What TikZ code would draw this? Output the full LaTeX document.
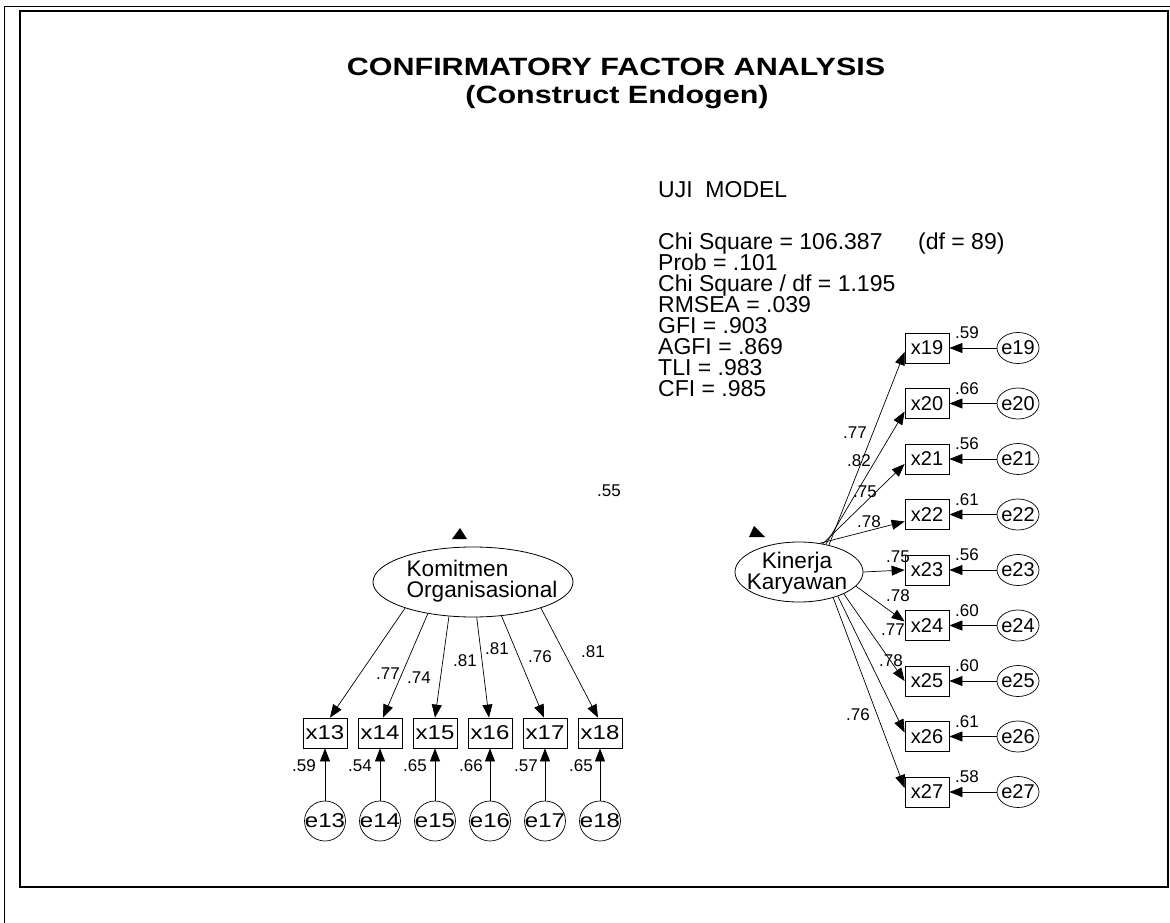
\documentclass[tikz,border=0pt]{standalone}
\usepackage{fontspec}
\setmainfont{Liberation Sans}
\usepackage{graphicx}
\usetikzlibrary{shapes.geometric,arrows.meta}
\begin{document}
\begin{tikzpicture}[x=1pt,y=-1pt,
 obs/.style={draw,line width=0.8pt,minimum width=44pt,minimum height=30pt,inner sep=0pt,font=\fontsize{20}{20}\selectfont},
 errL/.style={draw,ellipse,line width=0.7pt,minimum width=41pt,minimum height=40pt,inner sep=0pt,font=\fontsize{20}{20}\selectfont},
 errR/.style={draw,ellipse,line width=0.7pt,minimum width=42pt,minimum height=31pt,inner sep=0pt,font=\fontsize{20}{20}\selectfont},
 lat/.style={draw,ellipse,line width=0.8pt,inner sep=0pt},
 lbl/.style={inner sep=0pt,font=\fontsize{17}{17}\selectfont},
 stat/.style={inner sep=0pt,anchor=base west,font=\fontsize{23}{23}\selectfont},
 ttl/.style={inner sep=0pt,anchor=base,font=\fontsize{25}{25}\selectfont\bfseries},
 arr/.style={-{Triangle[length=13pt,width=10pt]},line width=0.7pt}]
\fill[white] (0,0) rectangle (1170,923);
\useasboundingbox (0,0) rectangle (1170,923);
% frames
\draw[line width=1.3pt] (20,11) rectangle (1168,887);
\draw[line width=0.9pt] (4,923) -- (4,6) -- (1170,6);
% title
\node[ttl] (t1) at (616,76) {\scalebox{1.22}[1]{CONFIRMATORY FACTOR ANALYSIS}};
\node[ttl] (t2) at (617,104) {\scalebox{1.22}[1]{(Construct Endogen)}};
% statistics
\node[stat] (uji) at (658,197) {UJI\ \ MODEL};
\node[stat] (s1) at (658,249.5) {Chi Square = 106.387};
\node[stat] (s1b) at (918,249.5) {(df = 89)};
\node[stat] (s2) at (658,270.5) {Prob = .101};
\node[stat] (s3) at (658,291.5) {Chi Square / df = 1.195};
\node[stat] (s4) at (658,312.5) {RMSEA = .039};
\node[stat] (s5) at (658,333.5) {GFI = .903};
\node[stat] (s6) at (658,354.5) {AGFI = .869};
\node[stat] (s7) at (658,375.5) {TLI = .983};
\node[stat] (s8) at (658,396.5) {CFI = .985};
% latent variables
\node[lat,minimum width=200pt,minimum height=70pt] (kom) at (473,582) {};
\node[inner sep=0pt,align=left,font=\fontsize{22.6}{21}\selectfont] (komt) at (482,581) {Komitmen\\Organisasional};
\node[lat,minimum width=128pt,minimum height=60pt] (kin) at (799,572) {};
\node[inner sep=0pt,align=center,font=\fontsize{22.6}{21}\selectfont] (kint) at (797,573) {Kinerja\\Karyawan};
% triangles and correlation value
\fill (452,539) -- (467,539) -- (460,528) -- cycle;
\fill (749,537) -- (765,537) -- (754,526) -- cycle;
\node[lbl] (r55) at (609,491) {.55};
% left indicators
\foreach \i/\x in {13/325,14/380,15/435,16/490,17/545,18/600} {
  \node[obs] (x\i) at (\x,733) {\scalebox{1.2}[1]{x\i}};
  \node[errL] (e\i) at (\x,821) {\makebox[0pt][c]{\scalebox{1.2}[1]{e\i}}};
  \draw[arr] (e\i) -- (x\i);
}
\draw[arr] (kom.-159) -- ([xshift=5pt]x13.north);
\draw[arr] (kom.-145) -- ([xshift=3pt]x14.north);
\draw[arr] (kom.-125) -- (x15.north);
\draw[arr] (kom.-84) -- ([xshift=-1pt]x16.north);
\draw[arr] (kom.-50) -- ([xshift=-1pt]x17.north);
\draw[arr] (kom.-21) -- ([xshift=-2pt]x18.north);
\node[lbl] at (388,674) {.77};
\node[lbl] at (419,678) {.74};
\node[lbl] at (465,661) {.81};
\node[lbl] at (497,649) {.81};
\node[lbl] at (540,657) {.76};
\node[lbl] at (593,652) {.81};
\node[lbl] at (304,766) {.59};
\node[lbl] at (360,766) {.54};
\node[lbl] at (415,766) {.65};
\node[lbl] at (471,766) {.66};
\node[lbl] at (526,766) {.57};
\node[lbl] at (581,766) {.65};
% right indicators
\foreach \i/\y/\r in {19/348/.59,20/403.5/.66,21/459/.56,22/514.5/.61,23/570/.56,24/625.5/.60,25/681/.60,26/736.5/.61,27/792/.58} {
  \node[obs] (x\i) at (927,\y) {x\i};
  \node[errR] (e\i) at (1018,\y) {\makebox[0pt][c]{e\i}};
  \draw[arr] (e\i) -- (x\i);
  \node[lbl] at (967,\y-15) {\r};
}
\draw[arr] (kin.42) -- ([yshift=-4pt]x19.west);
\draw[arr] (kin.46) -- ([yshift=-8pt]x20.west);
\draw[arr] (kin.50) -- ([yshift=-5pt]x21.west);
\draw[arr] (kin.54) -- ([yshift=-7pt]x22.west);
\draw[arr] (kin.0) -- (x23.west);
\draw[arr] (kin.-14) -- ([yshift=4pt]x24.west);
\draw[arr] (kin.-26) -- (x25.west);
\draw[arr] (kin.-32) -- ([yshift=4pt]x26.west);
\draw[arr] (kin.-37) -- ([yshift=4pt]x27.west);
\node[lbl] at (855,433) {.77};
\node[lbl] at (859,461) {.82};
\node[lbl] at (865,492) {.75};
\node[lbl] at (869,522) {.78};
\node[lbl] at (898,557) {.75};
\node[lbl] at (898,596) {.78};
\node[lbl] at (893,630) {.77};
\node[lbl] at (891,661) {.78};
\node[lbl] at (858,715) {.76};
\end{tikzpicture}
\end{document}
